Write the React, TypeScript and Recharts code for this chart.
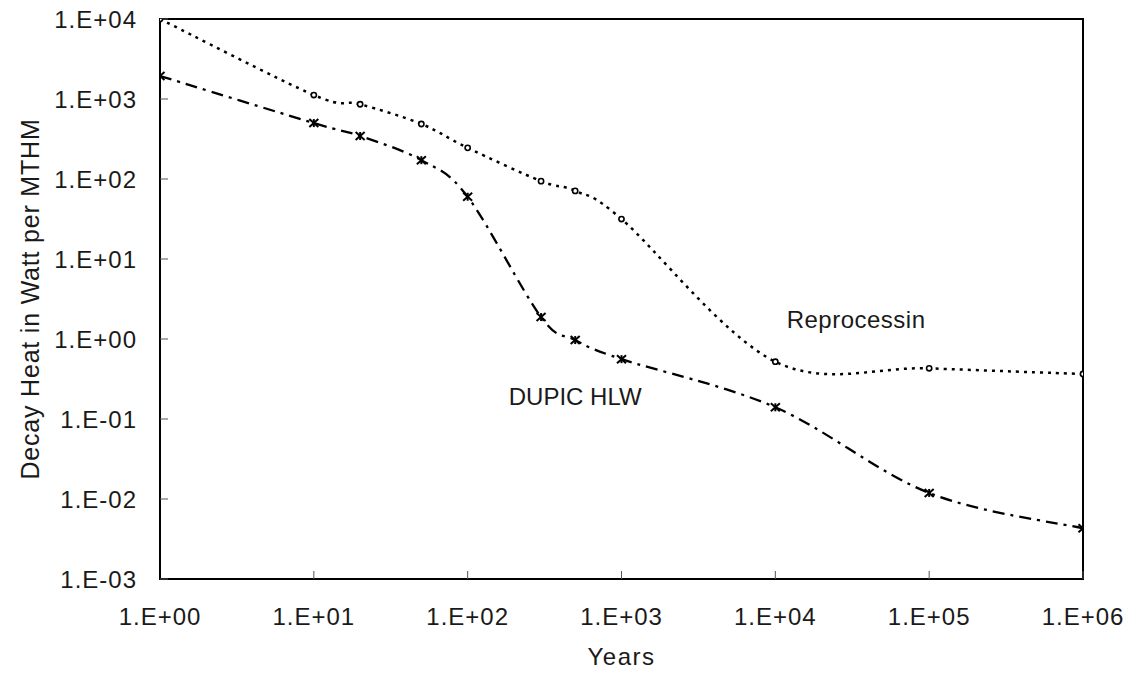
import React from "react";
import {
  LineChart,
  Line,
  XAxis,
  YAxis,
  ReferenceArea,
  ReferenceDot,
} from "recharts";

// years after discharge
const years = [1, 10, 20, 50, 100, 300, 500, 1000, 1e4, 1e5, 1e6];
// decay heat (W / MTHM)
const reprocessing = [10000, 1120, 860, 487, 245, 94, 71, 31.6, 0.52, 0.43, 0.365];
const dupicHlw = [1940, 500, 345, 172, 60, 1.88, 0.97, 0.56, 0.14, 0.0119, 0.0043];

const xTicks = [1, 10, 100, 1e3, 1e4, 1e5, 1e6];
const yTicks = [1e-3, 1e-2, 1e-1, 1, 10, 100, 1e3, 1e4];

const FONT = '"Liberation Sans", Arial, sans-serif';
const INK = "#1a1a1a";

const data = years.map((y, i) => ({
  year: y,
  reprocessing: reprocessing[i],
  dupic: dupicHlw[i],
}));

const sci = (v: number) => {
  const e = Math.round(Math.log10(v));
  const s = e < 0 ? "-" : "+";
  return `1.E${s}${String(Math.abs(e)).padStart(2, "0")}`;
};

// excel-ish smoothed line (bezier through points, tangent = (next - prev) / 6)
const smoothCurve = (context: any) => {
  let pts: number[][] = [];
  return {
    areaStart() {},
    areaEnd() {},
    lineStart() {
      pts = [];
    },
    point(x: number, y: number) {
      pts.push([+x, +y]);
    },
    lineEnd() {
      if (!pts.length) return;
      context.moveTo(pts[0][0], pts[0][1]);
      const k = 1 / 6;
      for (let i = 0; i < pts.length - 1; i++) {
        const p0 = pts[i - 1] || pts[i];
        const p1 = pts[i];
        const p2 = pts[i + 1];
        const p3 = pts[i + 2] || p2;
        context.bezierCurveTo(
          p1[0] + (p2[0] - p0[0]) * k,
          p1[1] + (p2[1] - p0[1]) * k,
          p2[0] - (p3[0] - p1[0]) * k,
          p2[1] - (p3[1] - p1[1]) * k,
          p2[0],
          p2[1],
        );
      }
    },
  };
};

const XTick = ({ x, y, payload }: any) => (
  <text
    x={x}
    y={y + 54}
    textAnchor="middle"
    fill={INK}
    fontSize={24}
    fontFamily={FONT}
    letterSpacing={1}
  >
    {sci(payload.value)}
  </text>
);

const YTick = ({ x, y, payload }: any) => (
  <text
    x={x - 31}
    y={y + 8.5}
    textAnchor="end"
    fill={INK}
    fontSize={24}
    fontFamily={FONT}
    letterSpacing={1}
  >
    {sci(payload.value)}
  </text>
);

const CircleDot = ({ cx, cy }: any) =>
  cx == null ? null : (
    <circle cx={cx} cy={cy} r={2.6} fill="#fff" stroke="#000" strokeWidth={1.6} />
  );

const StarDot = ({ cx, cy }: any) =>
  cx == null ? null : (
    <g stroke="#000" strokeWidth={2}>
      <line x1={cx - 4.5} y1={cy - 4} x2={cx + 4.5} y2={cy + 4} />
      <line x1={cx - 4.5} y1={cy + 4} x2={cx + 4.5} y2={cy - 4} />
      <line x1={cx} y1={cy - 4} x2={cx} y2={cy + 4} />
    </g>
  );

const note = (text: string, spacing: number) => ({ viewBox }: any) => (
  <text
    x={viewBox.x}
    y={viewBox.y + 9}
    textAnchor="middle"
    fill={INK}
    fontSize={24}
    fontFamily={FONT}
    letterSpacing={spacing}
  >
    {text}
  </text>
);

export default function App() {
  return (
    <div style={{ position: "absolute", left: 0, top: 0, background: "#fff" }}>
      <LineChart
        width={1137}
        height={675}
        data={data}
        margin={{ top: 19, right: 54, left: 0, bottom: 0 }}
      >
        <XAxis
          dataKey="year"
          type="number"
          scale="log"
          domain={[1, 1e6]}
          ticks={xTicks}
          allowDataOverflow
          height={96}
          axisLine={{ stroke: "#000", strokeWidth: 2 }}
          tickLine={{ stroke: "#555", strokeWidth: 1 }}
          tickSize={-8}
          tickMargin={0}
          tick={<XTick />}
          interval={0}
          label={{
            content: ({ viewBox }: any) => (
              <text
                x={viewBox.x + viewBox.width / 2}
                y={665}
                textAnchor="middle"
                fill={INK}
                fontSize={24}
                fontFamily={FONT}
                letterSpacing={1.5}
              >
                Years
              </text>
            ),
          }}
        />
        <YAxis
          type="number"
          scale="log"
          domain={[1e-3, 1e4]}
          ticks={yTicks}
          allowDataOverflow
          width={160}
          axisLine={{ stroke: "#000", strokeWidth: 2 }}
          tickLine={{ stroke: "#555", strokeWidth: 1 }}
          tickSize={-8}
          tickMargin={0}
          tick={<YTick />}
          interval={0}
          label={{
            content: ({ viewBox }: any) => {
              const cx = 30;
              const cy = viewBox.y + viewBox.height / 2;
              return (
                <text
                  x={cx}
                  y={cy}
                  transform={`rotate(-90 ${cx} ${cy})`}
                  textAnchor="middle"
                  dominantBaseline="central"
                  fill={INK}
                  fontSize={25}
                  fontFamily={FONT}
                  letterSpacing={0.8}
                >
                  Decay Heat in Watt per MTHM
                </text>
              );
            },
          }}
        />
        <ReferenceArea
          x1={1}
          x2={1e6}
          y1={1e-3}
          y2={1e4}
          fill="none"
          stroke="#000"
          strokeWidth={2}
          ifOverflow="visible"
        />
        <Line
          dataKey="reprocessing"
          type={smoothCurve as any}
          stroke="#000"
          strokeWidth={2.5}
          strokeDasharray="3 5"
          dot={<CircleDot />}
          activeDot={false}
          isAnimationActive={false}
        />
        <Line
          dataKey="dupic"
          type={smoothCurve as any}
          stroke="#000"
          strokeWidth={2.3}
          strokeDasharray="12 6 3 6"
          dot={<StarDot />}
          activeDot={false}
          isAnimationActive={false}
        />
        <ReferenceDot x={33500} y={1.78} r={0} stroke="none" label={{ content: note("Reprocessin", 0.5) }} />
        <ReferenceDot x={500} y={0.194} r={0} stroke="none" label={{ content: note("DUPIC HLW", 0) }} />
      </LineChart>
    </div>
  );
}
